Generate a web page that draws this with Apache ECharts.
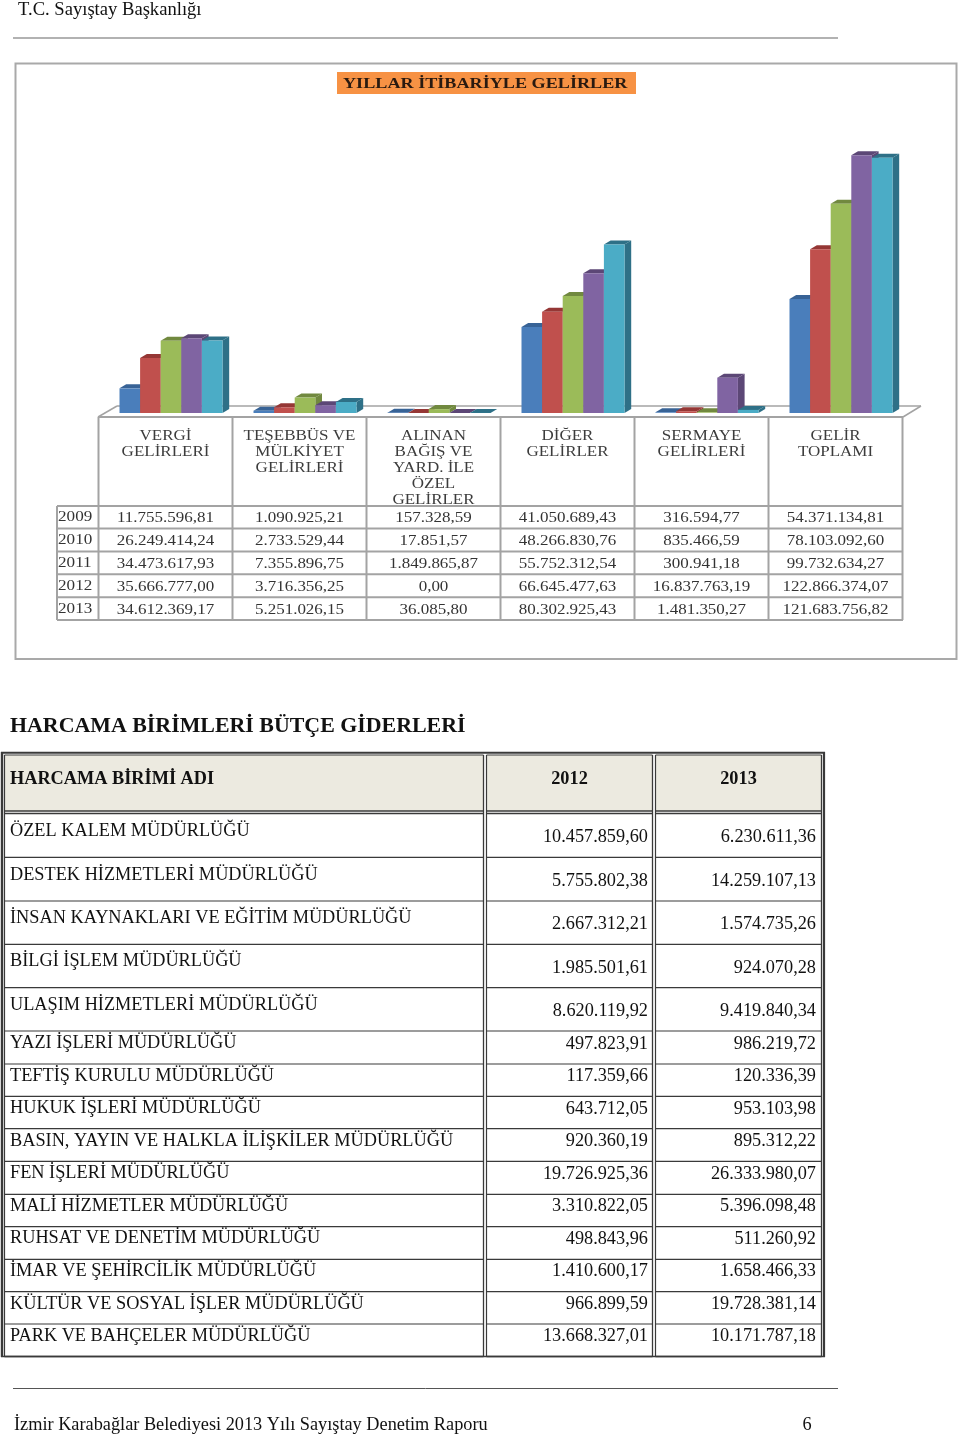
<!DOCTYPE html>
<html><head><meta charset="utf-8">
<style>html,body{margin:0;padding:0;background:#fff}#c{width:960px;height:1435px}</style>
<script src="https://cdn.jsdelivr.net/npm/echarts@6/dist/echarts.min.js"></script>
</head><body><div id="c"></div>
<script>
const incomeCategories=['VERGİ GELİRLERİ','TEŞEBBÜS VE MÜLKİYET GELİRLERİ','ALINAN BAĞIŞ VE YARD. İLE ÖZEL GELİRLER','DİĞER GELİRLER','SERMAYE GELİRLERİ','GELİR TOPLAMI'];
const categoryLines=[['VERGİ','GELİRLERİ'],['TEŞEBBÜS VE','MÜLKİYET','GELİRLERİ'],['ALINAN','BAĞIŞ VE','YARD. İLE','ÖZEL','GELİRLER'],['DİĞER','GELİRLER'],['SERMAYE','GELİRLERİ'],['GELİR','TOPLAMI']];
const years=['2009','2010','2011','2012','2013'];
const income2009=[11755596.81,1090925.21,157328.59,41050689.43,316594.77,54371134.81];
const income2010=[26249414.24,2733529.44,17851.57,48266830.76,835466.59,78103092.60];
const income2011=[34473617.93,7355896.75,1849865.87,55752312.54,300941.18,99732634.27];
const income2012=[35666777.00,3716356.25,0,66645477.63,16837763.19,122866374.07];
const income2013=[34612369.17,5251026.15,36085.80,80302925.43,1481350.27,121683756.82];
const incomeSeries=[income2009,income2010,income2011,income2012,income2013];
const frontColors=['#4a7ebb','#c0504d','#9bbb59','#8064a2','#4bacc6'];
const darkColors=['#386396','#953735','#71893f','#5c4776','#2e7087'];

const unitNames=['ÖZEL KALEM MÜDÜRLÜĞÜ','DESTEK HİZMETLERİ MÜDÜRLÜĞÜ','İNSAN KAYNAKLARI VE EĞİTİM MÜDÜRLÜĞÜ','BİLGİ İŞLEM MÜDÜRLÜĞÜ','ULAŞIM HİZMETLERİ MÜDÜRLÜĞÜ','YAZI İŞLERİ MÜDÜRLÜĞÜ','TEFTİŞ KURULU MÜDÜRLÜĞÜ','HUKUK İŞLERİ MÜDÜRLÜĞÜ','BASIN, YAYIN VE HALKLA İLİŞKİLER MÜDÜRLÜĞÜ','FEN İŞLERİ MÜDÜRLÜĞÜ','MALİ HİZMETLER MÜDÜRLÜĞÜ','RUHSAT VE DENETİM MÜDÜRLÜĞÜ','İMAR VE ŞEHİRCİLİK MÜDÜRLÜĞÜ','KÜLTÜR VE SOSYAL İŞLER MÜDÜRLÜĞÜ','PARK VE BAHÇELER MÜDÜRLÜĞÜ'];
const spend2012=[10457859.60,5755802.38,2667312.21,1985501.61,8620119.92,497823.91,117359.66,643712.05,920360.19,19726925.36,3310822.05,498843.96,1410600.17,966899.59,13668327.01];
const spend2013=[6230611.36,14259107.13,1574735.26,924070.28,9419840.34,986219.72,120336.39,953103.98,895312.22,26333980.07,5396098.48,511260.92,1658466.33,19728381.14,10171787.18];

const fmt=v=>{const [a,b]=v.toFixed(2).split('.');return a.replace(/\B(?=(\d{3})+$)/g,'.')+','+b;};
const SERIF='"Liberation Serif","Times New Roman",serif';
const els=[];
const text=(t,x,y,size,o={})=>els.push({type:'text',x,y:y+1.5,scaleX:o.sx||1,z:o.z||50,silent:true,style:{text:t,fill:o.fill||'#111',font:(o.bold?'bold ':'')+size+'px '+SERIF,align:o.align||'left',verticalAlign:'middle'}});
const line=(x1,y1,x2,y2,stroke,w,z)=>els.push({type:'line',z:z||40,silent:true,shape:{x1,y1,x2,y2},style:{stroke,lineWidth:w}});
const rect=(x,y,w,h,fill,stroke,lw,z)=>els.push({type:'rect',z:z||-1,silent:true,shape:{x,y,width:w,height:h},style:{fill:fill||'none',stroke:stroke||'none',lineWidth:lw||0}});

/* page furniture */
text('T.C. Sayıştay Başkanlığı',18,9,18.6);
line(13,38,838,38,'#666',1.2);
line(13,1388.5,838,1388.5,'#555',1);
text('İzmir Karabağlar Belediyesi 2013 Yılı Sayıştay Denetim Raporu',14,1424,18.3);
text('6',807,1424,18.3,{align:'center'});

/* chart frame + title */
rect(15.5,63.5,941,595.5,'#fff','#a9a9a9',2,-5);
rect(337,72,299,22,'#f79244',null,0,-1);
text('YILLAR İTİBARİYLE GELİRLER',343,82.5,15,{bold:true,sx:1.21,fill:'#2a1a10'});

/* floor of the 3D plot */
const G='#a3a3a3';
line(98,417,117,406,G,1.5,-2);line(117,406,921,406,G,1.5,-2);line(921,406,903,417,G,1.5,-2);

/* embedded data table */
const colX=[98.5,232.5,366.5,500.5,634.5,768.5,902.5];
const rowY=[506,528.6,551.4,574.3,597.2,620];
const headerY=[434.7,450.7,466.7,482.7,498.7];
line(98,417,903,417,G,2);
colX.forEach(x=>line(x,417,x,620,G,2));
rowY.forEach(y=>line(57,y,903,y,G,2));
line(57,506,57,620,G,2);
categoryLines.forEach((ls,c)=>{const cx=(colX[c]+colX[c+1])/2;ls.forEach((l,i)=>text(l,cx,headerY[i],13.6,{align:'center',sx:1.25,fill:'#3c3c3c'}));});
years.forEach((yr,r)=>{const y=(rowY[r]+rowY[r+1])/2;
  text(yr,58,y-1,13.6,{sx:1.26,fill:'#333'});
  incomeSeries[r].forEach((v,c)=>text(fmt(v),(colX[c]+colX[c+1])/2,y,13.6,{align:'center',sx:1.25,fill:'#333'}));
});

/* spending section */
text('HARCAMA BİRİMLERİ BÜTÇE GİDERLERİ',10,725,21.9,{bold:true});
const D='#3a3a3a';
const cellX=[[4.5,483.5],[486.5,652.5],[655.5,821.5]];
cellX.forEach(([a,b])=>rect(a,755,b-a,56,'#eceae0',null,0,-1));
text('HARCAMA BİRİMİ ADI',10,777.5,18.3,{bold:true});
text('2012',569.5,777.5,18.3,{bold:true,align:'center'});
text('2013',738.5,777.5,18.3,{bold:true,align:'center'});
const lineY=[813.5,857.3,901,944.3,987.7,1031,1064,1096.3,1128.7,1161.3,1194.3,1226.7,1259.3,1291.7,1324,1356.5];
const labelY=[830,873.5,917,960,1004,1042,1074.5,1107,1140,1172,1204.5,1237,1270,1302.5,1335];
const valueY=[836,880,923,966.5,1010,1042.5,1075,1107.5,1140,1172.5,1205,1237.5,1270,1302.5,1335];
line(1,752.7,825,752.7,D,2);
line(2,752,2,1357,D,2.4);line(824,752,824,1357,D,2.2);
cellX.forEach(([a,b])=>{
  line(a,755,a,1357,D,1.2);line(b,755,b,1357,D,1.3);
  line(a,755,b,755,D,1);line(a,811,b,811,D,1.6);
  lineY.forEach((y,i)=>line(a,y,b,y,D,i===0||i===15?1.6:1.2));
});
line(1,1356.5,825,1356.5,D,1.6);
unitNames.forEach((n,i)=>{
  text(n,10,labelY[i],18.3);
  text(fmt(spend2012[i]),648,valueY[i],18.3,{align:'right'});
  text(fmt(spend2013[i]),816,valueY[i],18.3,{align:'right'});
});

/* 3D column renderer – geometry comes from the axes */
const barShare=103/134, depthX=6.7, depthY=4;
function render3d(params,api){
  const s=params.seriesIndex, idx=api.value(0), v=api.value(1);
  const base=api.coord([idx,0]), top=api.coord([idx,v]);
  const w=api.size([1,0])[0]*barShare/5;
  const x=base[0]-2.5*w+s*w, y0=base[1], y1=top[1];
  return {type:'group',children:[
    {type:'polygon',shape:{points:[[x+w,y1],[x+w+depthX,y1-depthY],[x+w+depthX,y0-depthY],[x+w,y0]]},style:{fill:darkColors[s]}},
    {type:'polygon',shape:{points:[[x,y1],[x+depthX,y1-depthY],[x+w+depthX,y1-depthY],[x+w,y1]]},style:{fill:darkColors[s]}},
    {type:'rect',shape:{x,y:y1,width:w,height:y0-y1},style:{fill:frontColors[s]}}
  ]};
}
const chart=echarts.init(document.getElementById('c'),null,{renderer:'canvas',width:960,height:1435});
chart.setOption({
  animation:false,backgroundColor:'#fff',
  grid:{left:104,width:804,top:119.4,height:293.6},
  xAxis:{type:'category',data:incomeCategories,show:false},
  yAxis:{type:'value',min:0,max:140000000,show:false},
  series:incomeSeries.map((d,i)=>({name:years[i],type:'custom',clip:false,z:10,renderItem:render3d,encode:{x:0,y:1},data:d.map((v,c)=>[c,v])})),
  graphic:{elements:els}
});
</script></body></html>
